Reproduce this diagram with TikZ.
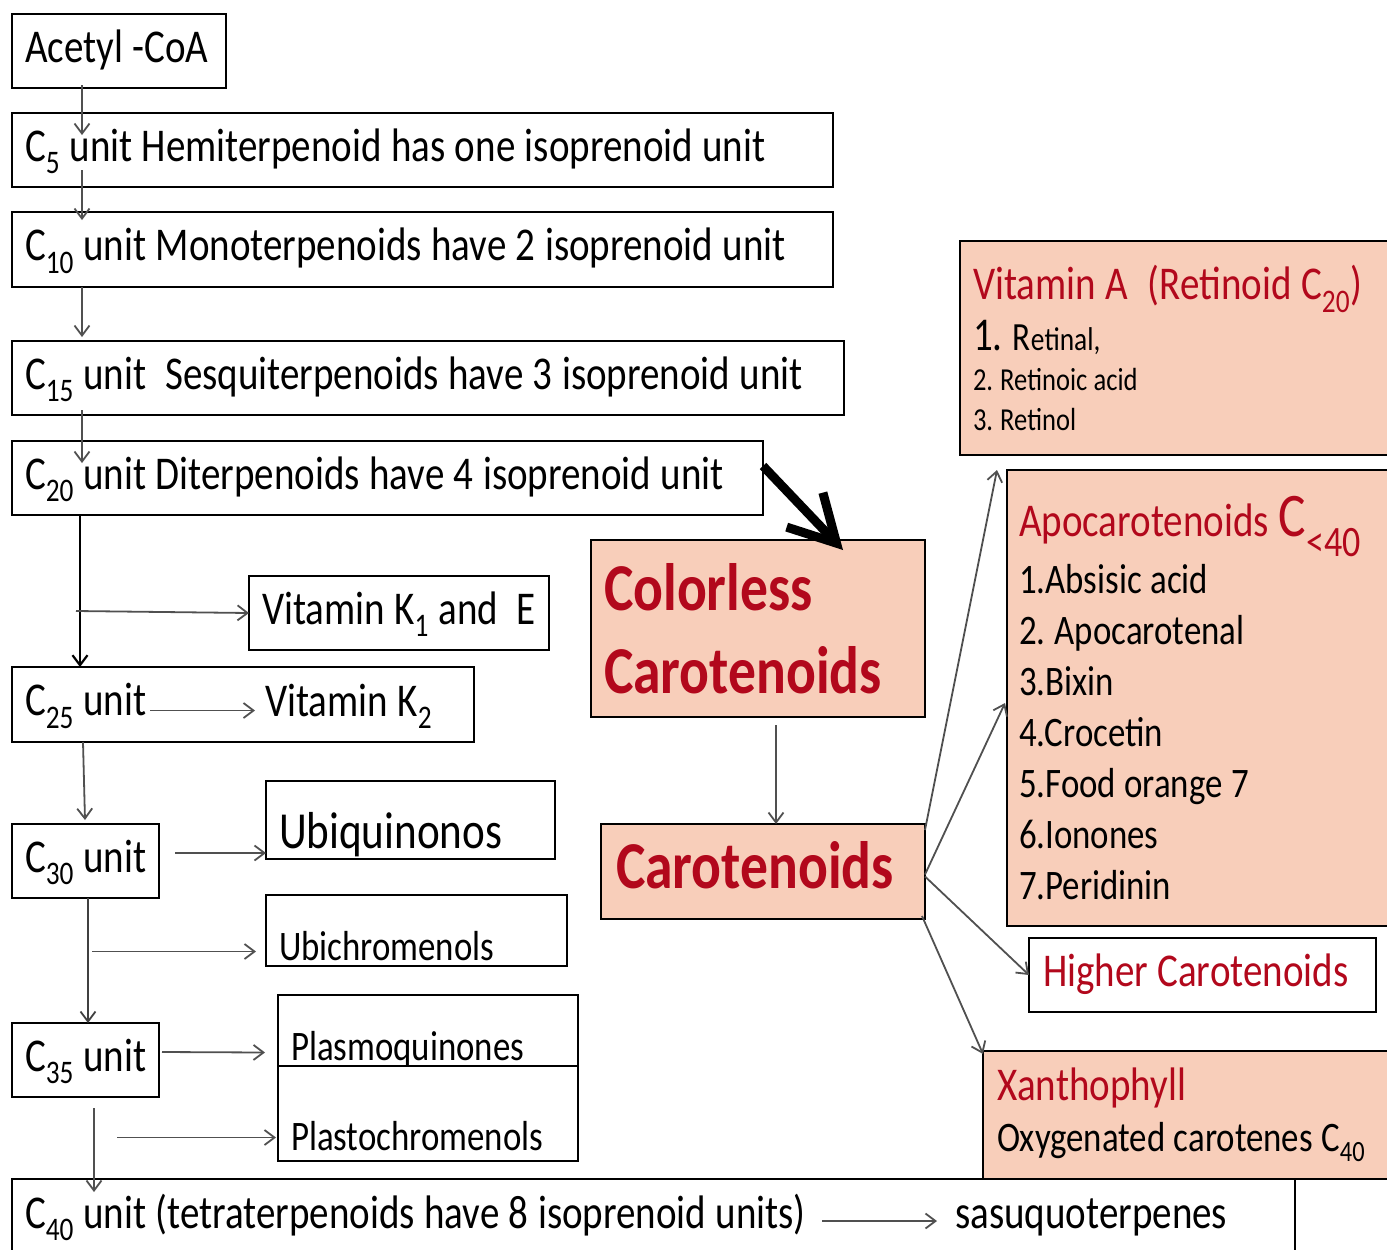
\documentclass[tikz,border=0pt]{standalone}
\usepackage{fontspec}
\setmainfont{Carlito}[FakeStretch=0.83]
\usetikzlibrary{arrows.meta, positioning, calc}
\definecolor{peach}{RGB}{248,206,186}
\definecolor{hdred}{RGB}{178,8,28}
\definecolor{linegray}{RGB}{80,80,80}
\newcommand{\tightsp}{\spaceskip=0.2em plus 0.04em minus 0.02em\xspaceskip=0.22em\relax}
\newcommand{\fmain}{\fontsize{47}{51}\selectfont\tightsp}
\newcommand{\fmid}{\fontsize{42}{47}\selectfont\tightsp}
\newcommand{\flist}{\fontsize{42}{51}\selectfont\tightsp}
\newcommand{\fsmall}{\fontsize{32}{40}\selectfont\tightsp}
\newcommand{\fhuge}{\fontsize{67}{83}\selectfont}
\tikzset{
    boxbase/.style={draw, rectangle, line width=2.5pt, outer sep=0pt, anchor=north west, inner xsep=13pt, inner ysep=0pt, font=\fmain},
    unitbox/.style={boxbase, fill=white, text height=30pt, text depth=8pt, execute at begin node=\tightsp\hbox\bgroup, execute at end node=\egroup},
    carobox/.style={boxbase, fill=peach, align=left},
    plain/.style={inner sep=0pt, anchor=base west, font=\fmain},
    flow/.style={draw=linegray, line width=1.8pt, -{Straight Barb[length=10pt,width=15pt]}},
    bigflow/.style={draw=black, line width=9pt, -{Straight Barb[length=46pt,width=50pt]}}
}

\begin{document}
\begin{tikzpicture}[x=1pt, y=-1pt]
    \useasboundingbox (0,0) rectangle (1387,1250);
    \clip (0,0) rectangle (1387,1250);

    % main chain
    \node [unitbox, text width=188pt, minimum height=74pt] (acetyl) at (12,14) {Acetyl -CoA};
    \node [unitbox, text width=795pt, minimum height=74pt] (c5) at (12,113) {C\textsubscript{5} unit Hemiterpenoid has one isoprenoid unit};
    \node [unitbox, text width=795pt, minimum height=75pt] (c10) at (12,212) {C\textsubscript{10} unit Monoterpenoids have 2 isoprenoid unit};
    \node [unitbox, text width=806pt, minimum height=74pt] (c15) at (12,341) {C\textsubscript{15} unit\ \ Sesquiterpenoids have 3 isoprenoid unit};
    \node [unitbox, text width=725pt, minimum height=74pt] (c20) at (12,441) {C\textsubscript{20} unit Diterpenoids have 4 isoprenoid unit};
    \node [unitbox, text width=274pt, minimum height=74pt] (vitk1) at (249,576) {Vitamin K\textsubscript{1} and\ \ E};
    \node [unitbox, text width=436pt, minimum height=75pt] (c25) at (12,667) {C\textsubscript{25} unit};
    \node [plain] (k2) at (265,716) {Vitamin K\textsubscript{2}};
    \node [unitbox, text width=121pt, minimum height=74pt] (c30) at (12,824) {C\textsubscript{30} unit};
    \node [unitbox, text width=263pt, minimum height=78pt, font=\fontsize{52}{56}\selectfont, text height=60pt, text depth=4pt] (ubiq) at (266,781) {Ubiquinonos};
    \node [unitbox, text width=275pt, minimum height=71pt, font=\fmid, text height=62pt, text depth=3pt] (ubichrom) at (266,895) {Ubichromenols};
    \node [unitbox, text width=121pt, minimum height=74pt] (c35) at (12,1023) {C\textsubscript{35} unit};
    \node [unitbox, text width=274pt, minimum height=71pt, font=\fmid, text height=62pt, text depth=3pt] (plasmo) at (278,995) {Plasmoquinones};
    \node [unitbox, text width=274pt, minimum height=95pt, font=\fmid, text height=76pt, text depth=3pt] (plasto) at (278,1066) {Plastochromenols};
    \node [unitbox, text width=1257pt, minimum height=80pt, text depth=12pt] (c40) at (12,1179) {C\textsubscript{40} unit (tetraterpenoids have 8 isoprenoid units)};
    \node [plain] (sasuq) at (955,1228) {sasuquoterpenes};

    % carotenoid side
    \node [carobox, text width=308pt, minimum height=177pt, font=\fhuge\bfseries, text=hdred] (colorless) at (591,540) {Colorless\\Carotenoids};
    \node [carobox, text width=294pt, minimum height=95pt, inner xsep=15pt, font=\fhuge\bfseries, text=hdred, text height=46pt, text depth=13pt] (carot) at (601,824) {Carotenoids};
    \node [carobox, text width=480pt, minimum height=214pt] (vita) at (960,241) {{\tightsp\color{hdred}Vitamin A\hspace{20pt}(Retinoid C\textsubscript{20})}\\
        {\tightsp 1. {\fontsize{40}{51}\selectfont R}{\fontsize{33}{51}\selectfont etinal,}}\\[-11pt]
        {\fsmall 2. Retinoic acid}\\[-11pt]
        {\fsmall 3. Retinol}};
    \node [carobox, text width=480pt, minimum height=456pt, inner xsep=12pt] (apoc) at (1007,470) {{\tightsp\color{hdred}Apocarotenoids\hspace{10pt}{\fontsize{62}{51}\selectfont C\textsubscript{<40}}}\\[6pt]
        {\flist 1.Absisic acid}\\
        {\flist 2. Apocarotenal}\\
        {\flist 3.Bixin}\\
        {\flist 4.Crocetin}\\
        {\flist 5.Food orange 7}\\
        {\flist 6.Ionones}\\
        {\flist 7.Peridinin}};
    \node [unitbox, text width=319pt, minimum height=74pt, inner xsep=14pt, text=hdred] (higher) at (1029,938) {Higher Carotenoids};
    \node [carobox, text width=480pt, minimum height=128pt, inner xsep=14pt] (xantho) at (983,1051) {{\color{hdred}Xanthophyll}\\
        {\fontsize{42}{51}\selectfont\tightsp Oxygenated carotenes C\textsubscript{40}}};

    % arrows, left column
    \draw [flow] ([xshift=70pt,yshift=3pt]acetyl.south west) -- ([xshift=70pt,yshift=-22pt]c5.north west);
    \draw [flow] ([xshift=70pt,yshift=17pt]c5.south west) -- ([xshift=70pt,yshift=-8pt]c10.north west);
    \draw [flow] ([xshift=70pt]c10.south west) -- ([xshift=70pt,yshift=4pt]c15.north west);
    \draw [flow] ([xshift=70pt,yshift=5pt]c15.south west) -- ([xshift=70pt,yshift=-22pt]c20.north west);
    \draw [flow, draw=black, line width=2.2pt] ([xshift=68pt]c20.south west) -- ([xshift=68pt]c25.north west);
    \draw [flow] ([xshift=-173pt,yshift=2pt]vitk1.west) -- (vitk1.west);
    \draw [flow] ([xshift=138pt,yshift=-6pt]c25.west) -- ($(k2.west |- c25.west)+(-10,6)$);
    \draw [flow] ([xshift=71pt]c25.south west) -- ([xshift=73pt,yshift=4pt]c30.north west);
    \draw [flow] ([xshift=16pt,yshift=8pt]c30.east) -- ([yshift=-33pt]ubiq.west);
    \draw [flow, draw=black!75] ([xshift=76pt]c30.south west) -- ([xshift=76pt]c35.north west);
    \draw [flow] ([xshift=-174pt,yshift=-21pt]ubichrom.west) -- ([xshift=-10pt,yshift=-21pt]ubichrom.west);
    \draw [flow] ([xshift=3pt,yshift=8pt]c35.east) -- ([xshift=-13pt,yshift=-22pt]plasmo.west);
    \draw [flow] ([xshift=82pt,yshift=-11pt]c35.south west) -- ([xshift=82pt,yshift=-13pt]c40.north west);
    \draw [flow] ([xshift=-161pt,yshift=-24pt]plasto.west) -- ([xshift=-2pt,yshift=-24pt]plasto.west);
    \draw [flow] ([xshift=810pt,yshift=-2pt]c40.west) -- ($(sasuq.west |- c40.west)+(-18,2)$);

    % arrows, right side
    \draw [bigflow] ([yshift=-25pt]c20.north east) -- ([xshift=252pt,yshift=-10pt]colorless.north west);
    \draw [flow] ([xshift=185pt,yshift=-8pt]colorless.south west) -- ([xshift=175pt]carot.north west);
    \draw [flow] ([yshift=-6pt]carot.north east) -- ([xshift=37pt,yshift=-15pt]vita.south west);
    \draw [flow] ([yshift=-3pt]carot.east) -- ([xshift=-2pt,yshift=-5pt]apoc.west);
    \draw [flow] ([yshift=-5pt]carot.east) -- (higher.west);
    \draw [flow] ([xshift=-3pt,yshift=3pt]carot.south east) -- ([yshift=-3pt]xantho.north west);
\end{tikzpicture}
\end{document}
